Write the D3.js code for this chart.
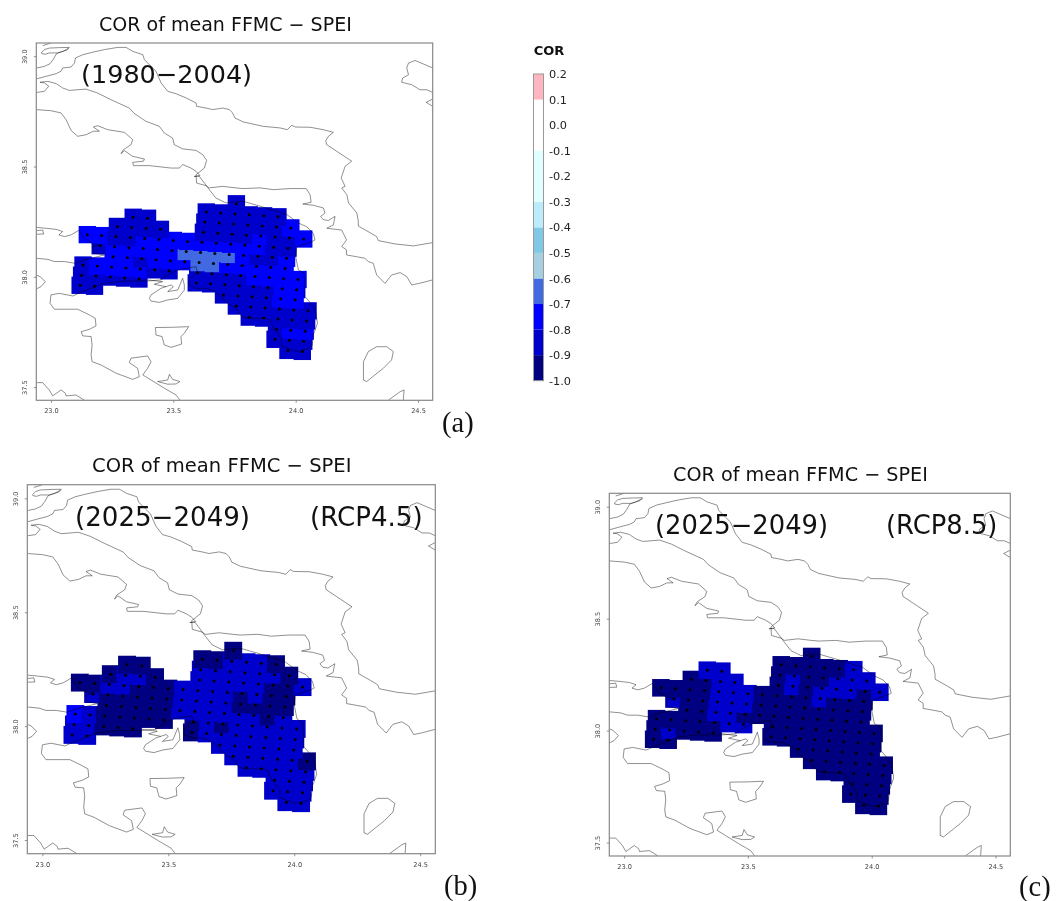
<!DOCTYPE html>
<html>
<head>
<meta charset="utf-8">
<title>COR of mean FFMC - SPEI</title>
<script src="https://cdn.jsdelivr.net/npm/d3@7"></script>
<style>
body { margin: 0; background: #fff; }
svg { display: block; filter: blur(0.35px); }
text { font-family: "DejaVu Sans", sans-serif; }
.axis path { stroke: none; }
.axis line { stroke: #777; stroke-width: 0.8; }
.axis text { fill: #444; font-size: 6.6px; }
.coast { fill: none; stroke: #000; stroke-width: 0.8; stroke-opacity: 0.55; }
</style>
</head>
<body>
<svg width="1063" height="901"></svg>
<script>
// correlation classes (one value per class)
var __ = null, r = -0.65, b = -0.75, m = -0.85, n = -0.95;

// rows north to south, columns west to east, 17 columns per row
var corHist = [
  [__,__,__,__,__,__,__,__,__,__, m,__,__,__,__,__,__],
  [__,__,__,__,__,__,__,__, m, m, m, m, m, m,__,__,__],
  [__,__,__, m, m,__,__,__, m, m, m, m, m, m, b,__,__],
  [__,__, m, m, m, m,__,__, m, m, m, m, b, m, m, b,__],
  [ b, b, m, m, b, b, b, b, b, b, b, b, b, m, m,__,__],
  [__, m, b, b, b, b, b, r, r, r, r, b, m, m, b,__,__],
  [__,__, b, b, m, b, b, b, r, r, b, b, b, b, b,__,__],
  [ m, b, b, b, b, m, m,__, m, m, m, m, b, b, b, b,__],
  [ m, m, m, m, m,__,__,__, m, m, m, m, m, m, b, b,__],
  [ m, m,__,__,__,__,__,__,__,__, m, m, m, m, b, b,__],
  [__,__,__,__,__,__,__,__,__,__,__, m, m, m, m, m, m],
  [__,__,__,__,__,__,__,__,__,__,__,__, m, m, m, m, m],
  [__,__,__,__,__,__,__,__,__,__,__,__,__,__, m, b, b],
  [__,__,__,__,__,__,__,__,__,__,__,__,__,__, m, m, m],
  [__,__,__,__,__,__,__,__,__,__,__,__,__,__,__, m, m]
];

var corRcp45 = [
  [__,__,__,__,__,__,__,__,__,__, n,__,__,__,__,__,__],
  [__,__,__,__,__,__,__,__, n, n, m, m, m, n,__,__,__],
  [__,__,__, n, n,__,__,__, m, m, m, m, m, m, n,__,__],
  [__,__, n, m, m, n,__,__, m, m, m, m, m, n, n, m,__],
  [ n, n, m, m, n, n, n, m, m, m, m, n, m, n, n,__,__],
  [__, m, n, n, n, n, n, m, m, m, m, n, n, n, n,__,__],
  [__,__, n, n, n, n, n, m, m, m, m, m, m, n, m,__,__],
  [ b, m, n, n, n, n, n,__, n, m, n, m, m, m, m, m,__],
  [ m, m, n, n, n,__,__,__, n, m, m, m, m, m, m, m,__],
  [ m, m,__,__,__,__,__,__,__,__, m, m, m, m, m, m,__],
  [__,__,__,__,__,__,__,__,__,__,__, m, m, m, m, m, n],
  [__,__,__,__,__,__,__,__,__,__,__,__, m, m, m, m, m],
  [__,__,__,__,__,__,__,__,__,__,__,__,__,__, m, m, m],
  [__,__,__,__,__,__,__,__,__,__,__,__,__,__, m, m, m],
  [__,__,__,__,__,__,__,__,__,__,__,__,__,__,__, m, m]
];

var corRcp85 = [
  [__,__,__,__,__,__,__,__,__,__, n,__,__,__,__,__,__],
  [__,__,__,__,__,__,__,__, n, n, n, n, n, m,__,__,__],
  [__,__,__, m, m,__,__,__, n, m, n, n, m, m, m,__,__],
  [__,__, n, n, m, m,__,__, n, m, n, m, m, m, n, m,__],
  [ n, n, n, n, m, m, m, n, n, n, n, m, n, n, n,__,__],
  [__, m, n, n, m, m, m, n, n, n, n, n, n, n, n,__,__],
  [__,__, n, n, m, m, n, n, n, n, n, n, n, n, n,__,__],
  [ n, n, n, n, n, m, m,__, n, n, n, n, n, n, n, n,__],
  [ n, m, n, n, n,__,__,__, n, n, n, n, n, n, n, n,__],
  [ n, n,__,__,__,__,__,__,__,__, n, n, n, n, n, n,__],
  [__,__,__,__,__,__,__,__,__,__,__, n, n, n, n, n, n],
  [__,__,__,__,__,__,__,__,__,__,__,__, n, n, n, n, n],
  [__,__,__,__,__,__,__,__,__,__,__,__,__,__, n, n, n],
  [__,__,__,__,__,__,__,__,__,__,__,__,__,__, n, n, n],
  [__,__,__,__,__,__,__,__,__,__,__,__,__,__,__, n, n]
];

// colour key
var keyBreaks = [-1.0, -0.9, -0.8, -0.7, -0.6, -0.5, -0.4, -0.3, -0.1, 0.1, 0.2];
var keyColors = ["#000080", "#0000cd", "#0000ff", "#4169e1", "#a6cfdf", "#80c8e4", "#bcecfc", "#e0ffff", "#ffffff", "#ffb6c1"];
var keyTicks = [0.2, 0.1, 0, -0.1, -0.2, -0.3, -0.4, -0.5, -0.6, -0.7, -0.8, -0.9, -1.0];
var keyLabels = ["0.2", "0.1", "0.0", "-0.1", "-0.2", "-0.3", "-0.4", "-0.5", "-0.6", "-0.7", "-0.8", "-0.9", "-1.0"];

// map axes
var lonTicks = [23.0, 23.5, 24.0, 24.5];
var latTicks = [37.5, 38.0, 38.5, 39.0];

// coastlines, [lon, lat]
var coastSliver = [[22.962,39.018],[22.973,39.030],[22.993,39.037],[23.034,39.039],[23.075,39.040],[23.064,39.027],[23.027,39.015],[22.993,39.015],[22.977,39.009],[22.962,39.012],[22.962,39.018]];
var coastCorner = [[22.966,39.048],[23.000,39.060]];
var coastThessaly = [[22.943,38.947],[22.973,38.954],[22.996,38.966],[23.010,38.987],[23.023,39.012],[23.048,39.022],[23.072,39.036]];
var coastEuboeaNorth = [[22.94,38.897],[22.980,38.909],[23.021,38.921],[23.041,38.932],[23.048,38.947],[23.082,38.951],[23.096,38.969],[23.100,38.992],[23.130,39.007],[23.170,39.018],[23.218,39.030],[23.272,39.040],[23.307,39.040],[23.334,39.022],[23.375,39.007],[23.382,38.984],[23.409,38.954],[23.429,38.932],[23.450,38.879],[23.477,38.841],[23.511,38.830],[23.552,38.811],[23.593,38.788],[23.595,38.773],[23.634,38.765],[23.661,38.758],[23.702,38.765],[23.729,38.758],[23.742,38.743],[23.752,38.720],[23.786,38.702],[23.868,38.682],[23.936,38.675],[23.966,38.667],[23.984,38.687],[23.998,38.679],[24.059,38.678],[24.113,38.667],[24.154,38.655],[24.134,38.637],[24.123,38.617],[24.127,38.599],[24.168,38.569],[24.229,38.524],[24.202,38.501],[24.186,38.448],[24.202,38.410],[24.188,38.403],[24.209,38.372],[24.216,38.335],[24.250,38.289],[24.256,38.252],[24.256,38.230],[24.304,38.200],[24.331,38.182],[24.338,38.164],[24.406,38.149],[24.481,38.140],[24.56,38.155]];
var coastSkyros = [[24.56,38.947],[24.488,38.981],[24.461,38.969],[24.454,38.947],[24.461,38.916],[24.437,38.901],[24.433,38.882],[24.474,38.871],[24.508,38.848],[24.536,38.848],[24.56,38.836]];
var coastSkyrosSmall = [[24.56,38.806],[24.533,38.791],[24.56,38.773]];
var coastEuboeaSouth = [[22.943,38.836],[22.973,38.841],[22.991,38.864],[22.973,38.879],[22.955,38.882],[22.987,38.886],[23.021,38.876],[23.048,38.856],[23.075,38.845],[23.143,38.851],[23.191,38.833],[23.245,38.803],[23.320,38.765],[23.341,38.740],[23.388,38.705],[23.443,38.682],[23.463,38.652],[23.497,38.629],[23.504,38.599],[23.538,38.580],[23.593,38.573],[23.620,38.554],[23.636,38.528],[23.627,38.493],[23.593,38.463],[23.595,38.425],[23.634,38.413],[23.647,38.403],[23.702,38.410],[23.756,38.403],[23.786,38.400],[23.855,38.403],[23.909,38.395],[23.977,38.400],[24.043,38.400],[24.059,38.372],[24.063,38.338],[24.029,38.330],[24.073,38.324],[24.113,38.312],[24.120,38.289],[24.102,38.274],[24.113,38.259],[24.134,38.255],[24.161,38.274],[24.154,38.235],[24.127,38.220],[24.188,38.212],[24.208,38.167],[24.188,38.137],[24.208,38.122],[24.208,38.099],[24.249,38.091],[24.283,38.084],[24.297,38.069],[24.317,38.061],[24.331,38.008],[24.365,37.970],[24.392,38.008],[24.427,38.019],[24.454,38.001],[24.474,37.963],[24.508,37.971],[24.56,37.986]];
var coastMainland = [[22.94,38.758],[23.000,38.753],[23.041,38.743],[23.062,38.712],[23.082,38.664],[23.109,38.637],[23.143,38.644],[23.173,38.660],[23.198,38.660],[23.173,38.679],[23.191,38.685],[23.232,38.667],[23.300,38.655],[23.334,38.622],[23.327,38.599],[23.296,38.576],[23.286,38.558],[23.300,38.572],[23.334,38.546],[23.382,38.534],[23.378,38.524],[23.334,38.519],[23.337,38.504],[23.402,38.504],[23.491,38.493],[23.525,38.493],[23.538,38.509],[23.572,38.493],[23.593,38.478],[23.609,38.459],[23.585,38.455],[23.606,38.456],[23.627,38.425],[23.647,38.395],[23.674,38.357],[23.715,38.335],[23.732,38.338],[23.786,38.342],[23.855,38.320],[23.964,38.282],[24.011,38.244],[24.045,38.227],[24.072,38.197],[24.079,38.167],[24.065,38.159],[24.004,38.137],[24.000,38.091],[24.011,38.031],[24.034,38.016],[24.038,37.948],[24.038,37.910],[24.079,37.857],[24.089,37.789],[24.072,37.736],[24.068,37.691],[24.059,37.676],[24.004,37.661],[23.943,37.686],[23.943,37.721],[23.909,37.766],[23.895,37.804],[23.875,37.812],[23.814,37.812],[23.780,37.819],[23.752,37.862],[23.732,37.872],[23.708,37.895],[23.674,37.933],[23.634,37.948],[23.593,37.948],[23.563,37.963],[23.563,37.986],[23.597,38.023],[23.593,38.046],[23.518,38.031],[23.477,38.008],[23.450,37.986],[23.395,37.981],[23.300,37.981],[23.211,37.970],[23.164,37.948],[23.130,37.933],[23.089,37.913],[23.034,37.925],[23.000,37.918],[22.996,37.880],[23.014,37.853],[23.075,37.853],[23.109,37.853],[23.157,37.827],[23.181,37.812],[23.184,37.777],[23.157,37.762],[23.123,37.751],[23.130,37.732],[23.164,37.729],[23.168,37.691],[23.164,37.646],[23.168,37.615],[23.205,37.600],[23.266,37.563],[23.334,37.535],[23.361,37.547],[23.354,37.585],[23.320,37.611],[23.327,37.631],[23.395,37.641],[23.409,37.615],[23.395,37.585],[23.375,37.555],[23.409,37.532],[23.463,37.495],[23.511,37.464],[23.527,37.441]];
var coastLeftIsle = [[22.94,38.008],[22.955,38.001],[22.977,37.978],[22.959,37.955],[22.94,37.945]];
var coastGulf = [[22.94,38.224],[22.980,38.220],[23.021,38.215],[23.048,38.205],[23.032,38.190],[23.055,38.182],[23.082,38.190],[23.116,38.212],[23.136,38.174],[23.170,38.149],[23.205,38.144],[23.170,38.137],[23.177,38.107],[23.218,38.099]];
var coastGulfSmall = [[22.94,38.209],[22.966,38.212],[22.970,38.194],[22.94,38.193]];
var coastGulfSouth = [[22.94,38.084],[22.987,38.079],[23.014,38.069],[23.055,38.069],[23.100,38.061],[23.136,38.076],[23.218,38.099]];
var coastSouthWest = [[22.94,37.520],[22.966,37.520],[22.993,37.487],[23.007,37.460],[23.041,37.487],[23.059,37.472],[23.062,37.460],[23.102,37.464],[23.136,37.441]];
var coastAegina = [[23.427,37.770],[23.497,37.771],[23.563,37.774],[23.545,37.744],[23.531,37.729],[23.534,37.695],[23.491,37.680],[23.463,37.691],[23.454,37.729],[23.429,37.736],[23.427,37.770]];
var coastHydraIsle = [[23.436,37.525],[23.477,37.532],[23.484,37.558],[23.497,37.535],[23.527,37.525],[23.511,37.514],[23.477,37.513],[23.436,37.525]];
var coastSalamis = [[23.402,37.902],[23.409,37.918],[23.450,37.948],[23.491,37.963],[23.500,37.955],[23.477,37.933],[23.518,37.940],[23.538,37.993],[23.545,37.963],[23.545,37.940],[23.518,37.902],[23.477,37.895],[23.443,37.884],[23.409,37.890],[23.402,37.902]];
var coastIslet = [[23.395,37.986],[23.456,37.978],[23.422,37.966],[23.470,37.955]];
var coastKea = [[24.277,37.532],[24.277,37.615],[24.297,37.661],[24.331,37.683],[24.372,37.683],[24.399,37.661],[24.392,37.623],[24.358,37.585],[24.324,37.555],[24.290,37.525],[24.277,37.532]];
var coastKythnos = [[24.379,37.441],[24.427,37.479],[24.443,37.487],[24.440,37.441]];

var coasts = [coastSliver, coastCorner, coastThessaly, coastEuboeaNorth, coastSkyros, coastSkyrosSmall,
    coastEuboeaSouth, coastMainland, coastLeftIsle, coastGulf, coastGulfSmall, coastGulfSouth,
    coastSouthWest, coastAegina, coastHydraIsle, coastSalamis, coastIslet, coastKea, coastKythnos];

// the model grid is slightly rotated against lon/lat
var grid = {
    lon0: 23.6347, lat0: 38.2939,      // row 1, column 8
    lonCol: 0.05857, latCol: -0.00438,
    lonRow: -0.00586, latRow: -0.04593,
    cellLon: 0.071, cellLat: 0.0785
};

function cellsOf(values)
{
    var cells = [];
    // the plot paints south to north, west to east; later cells overlap earlier ones
    for (var row = values.length - 1; row >= 0; row--)
    {
        for (var col = 0; col < values[row].length; col++)
        {
            if (values[row][col] === null) continue;
            var i = col - 8, j = row - 1;
            cells.push({
                lon: grid.lon0 + i * grid.lonCol + j * grid.lonRow,
                lat: grid.lat0 + i * grid.latCol + j * grid.latRow,
                value: values[row][col]
            });
        }
    }
    return cells;
}

var svg = d3.select("svg");
var color = d3.scaleThreshold().domain(keyBreaks.slice(1, -1)).range(keyColors);

function drawPanel(p, id)
{
    var x = d3.scaleLinear().domain([22.94, 24.56]).range([p.left, p.right]);
    var y = d3.scaleLinear().domain([37.44, 39.06]).range([p.bottom, p.top]);
    var cells = cellsOf(p.values);

    var clip = svg.append("clipPath").attr("id", "clip" + id);
    clip.append("rect")
        .attr("x", p.left).attr("y", p.top)
        .attr("width", p.right - p.left).attr("height", p.bottom - p.top);

    var g = svg.append("g").attr("clip-path", "url(#clip" + id + ")");

    g.selectAll("rect.cell")
        .data(cells)
        .enter()
        .append("rect")
        .attr("class", "cell")
        .attr("x", function(d) { return x(d.lon - grid.cellLon / 2); })
        .attr("y", function(d) { return y(d.lat + grid.cellLat / 2); })
        .attr("width", function(d) { return x(d.lon + grid.cellLon / 2) - x(d.lon - grid.cellLon / 2); })
        .attr("height", function(d) { return y(d.lat - grid.cellLat / 2) - y(d.lat + grid.cellLat / 2); })
        .attr("fill", function(d) { return color(d.value); });

    var line = d3.line()
        .x(function(d) { return x(d[0]); })
        .y(function(d) { return y(d[1]); });

    g.selectAll("path.coast")
        .data(coasts)
        .enter()
        .append("path")
        .attr("class", "coast")
        .attr("d", line);

    g.selectAll("circle")
        .data(cells)
        .enter()
        .append("circle")
        .attr("cx", function(d) { return x(d.lon); })
        .attr("cy", function(d) { return y(d.lat); })
        .attr("r", 1.5)
        .attr("fill", "#000");

    svg.append("rect")
        .attr("x", p.left).attr("y", p.top)
        .attr("width", p.right - p.left).attr("height", p.bottom - p.top)
        .attr("fill", "none").attr("stroke", "#888").attr("stroke-width", 1.2);

    svg.append("g")
        .attr("class", "axis")
        .attr("transform", "translate(0," + p.bottom + ")")
        .call(d3.axisBottom(x).tickValues(lonTicks).tickSize(2.5).tickPadding(6).tickFormat(d3.format(".1f")));

    var yAxis = svg.append("g")
        .attr("class", "axis")
        .attr("transform", "translate(" + p.left + ",0)")
        .call(d3.axisLeft(y).tickValues(latTicks).tickSize(2.5).tickFormat(d3.format(".1f")));
    yAxis.selectAll("text")
        .attr("text-anchor", "middle")
        .attr("x", 0).attr("dy", 0)
        .attr("transform", "translate(-9,0) rotate(-90)");

    svg.append("text")
        .attr("x", p.titleX).attr("y", p.titleY)
        .attr("font-size", p.titleSize)
        .attr("fill", "#111")
        .text("COR of mean FFMC \u2212 SPEI");

    svg.append("text")
        .attr("x", p.periodX).attr("y", p.periodY)
        .attr("font-size", p.periodSize)
        .attr("fill", "#111")
        .text(p.period);

    if (p.scenario)
    {
        svg.append("text")
            .attr("x", p.scenarioX).attr("y", p.periodY)
            .attr("font-size", p.periodSize)
            .attr("fill", "#111")
            .text(p.scenario);
    }

    svg.append("text")
        .attr("x", p.tagX).attr("y", p.tagY)
        .style("font-family", "'Liberation Serif', serif")
        .style("font-size", "28.5px")
        .attr("fill", "#111")
        .text(p.tag);
}

drawPanel({
    left: 36.3, right: 432.7, top: 43, bottom: 400.3, values: corHist,
    titleX: 99, titleY: 31, titleSize: 19.05,
    period: "(1980\u22122004)", periodX: 81, periodY: 83, periodSize: 25.5,
    tag: "(a)", tagX: 442, tagY: 432
}, "a");

drawPanel({
    left: 27.3, right: 435.3, top: 484.7, bottom: 853.7, values: corRcp45,
    titleX: 92, titleY: 472, titleSize: 19.55,
    period: "(2025\u22122049)", periodX: 75, periodY: 526, periodSize: 26.1,
    scenario: "(RCP4.5)", scenarioX: 310,
    tag: "(b)", tagX: 444, tagY: 895
}, "b");

drawPanel({
    left: 609.3, right: 1010.3, top: 493.3, bottom: 856, values: corRcp85,
    titleX: 673, titleY: 481, titleSize: 19.2,
    period: "(2025\u22122049)", periodX: 655, periodY: 534, periodSize: 25.8,
    scenario: "(RCP8.5)", scenarioX: 886,
    tag: "(c)", tagX: 1019, tagY: 896
}, "c");

// colour key
var keyY = d3.scaleLinear().domain([-1, 0.2]).range([380.7, 74]);
var keyLeft = 533.5, keyWidth = 10;

svg.append("text")
    .attr("x", 549).attr("y", 55)
    .attr("text-anchor", "middle")
    .attr("font-size", 13)
    .attr("font-weight", "bold")
    .attr("fill", "#111")
    .text("COR");

svg.selectAll("rect.key")
    .data(keyColors)
    .enter()
    .append("rect")
    .attr("class", "key")
    .attr("x", keyLeft)
    .attr("width", keyWidth)
    .attr("y", function(d, i) { return keyY(keyBreaks[i + 1]); })
    .attr("height", function(d, i) { return keyY(keyBreaks[i]) - keyY(keyBreaks[i + 1]); })
    .attr("fill", function(d) { return d; });

svg.append("rect")
    .attr("x", keyLeft).attr("y", keyY(0.2))
    .attr("width", keyWidth).attr("height", keyY(-1) - keyY(0.2))
    .attr("fill", "none").attr("stroke", "#999").attr("stroke-width", 1);

var keyAxis = svg.append("g")
    .attr("transform", "translate(" + (keyLeft + keyWidth) + ",0)")
    .call(d3.axisRight(keyY).tickValues(keyTicks).tickSize(0).tickPadding(5.5)
        .tickFormat(function(d, i) { return keyLabels[i]; }));
keyAxis.select(".domain").remove();
keyAxis.selectAll("text")
    .attr("fill", "#222")
    .style("font-family", "'DejaVu Sans', sans-serif")
    .style("font-size", "11.3px");
</script>
</body>
</html>
